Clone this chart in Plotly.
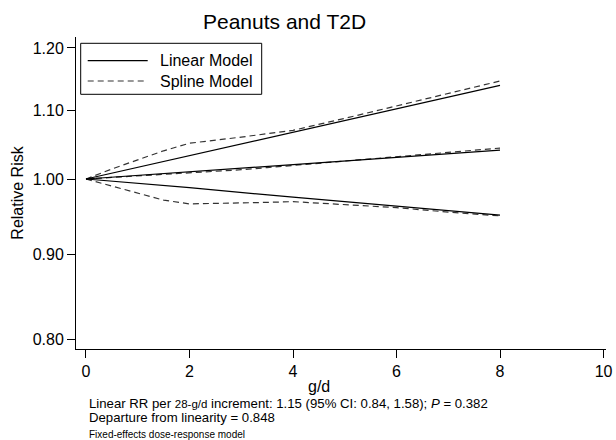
import plotly.graph_objects as go

# ---------------- data ----------------
lin_x = [0, 2, 4, 6, 8]
lin_rr = [1.000, 1.010, 1.020, 1.031, 1.041]
lin_hi = [1.000, 1.033, 1.068, 1.103, 1.139]
lin_lo = [1.000, 0.988, 0.975, 0.963, 0.951]

spl_x = [0, 0.5, 1, 1.5, 2, 2.5, 3, 3.5, 4, 5, 6, 7, 8]
spl_rr = [1.000, 1.002, 1.004, 1.006, 1.008, 1.010, 1.013, 1.016, 1.019, 1.025, 1.031, 1.037, 1.044]
spl_hi = [1.000, 1.014, 1.027, 1.040, 1.051, 1.055, 1.060, 1.065, 1.070, 1.088, 1.107, 1.126, 1.146]
spl_lo = [1.000, 0.990, 0.980, 0.971, 0.966, 0.9665, 0.967, 0.968, 0.969, 0.965, 0.961, 0.955, 0.950]

x_ticks = [0, 2, 4, 6, 8, 10]
y_ticks = [0.80, 0.90, 1.00, 1.10, 1.20]
y_ticktext = ["0.80", "0.90", "1.00", "1.10", "1.20"]

title = "Peanuts and T2D"
x_title = "g/d"
y_title = "Relative Risk"
legend_names = ["Linear Model", "Spline Model"]

# ---------------- layout helpers ----------------
W, H = 616, 440
ML, MR, MT, MB = 76, 10, 37, 91
PW, PH = W - ML - MR, H - MT - MB
FONT = "Arial, Liberation Sans, Helvetica, sans-serif"


def px(x):
    return (x - ML) / PW


def py(y):
    return (H - MB - y) / PH


fig = go.Figure()

dash_style = dict(color="#333333", width=1.2, dash="6px,4px")
solid_style = dict(color="#000000", width=1.2)

for ys in (spl_hi, spl_rr, spl_lo):
    fig.add_trace(go.Scatter(x=spl_x, y=ys, mode="lines", line=dash_style,
                             name=legend_names[1], showlegend=False, hoverinfo="skip"))
for ys in (lin_hi, lin_rr, lin_lo):
    fig.add_trace(go.Scatter(x=lin_x, y=ys, mode="lines", line=solid_style,
                             name=legend_names[0], showlegend=False, hoverinfo="skip"))

axis_common = dict(showline=True, linecolor="black", linewidth=1, ticks="outside",
                   ticklen=8, tickcolor="black", tickwidth=1, showgrid=False,
                   zeroline=False, mirror=False,
                   tickfont=dict(family=FONT, size=16, color="black"))

fig.update_xaxes(range=[-0.193, 10.048], tickvals=x_ticks, **axis_common)
fig.update_yaxes(type="log", range=[-0.10268, 0.08577], tickvals=y_ticks,
                 ticktext=y_ticktext,
                 title=dict(text=y_title, font=dict(family=FONT, size=16, color="black"),
                            standoff=5),
                 **axis_common)

shapes = []
# legend box
shapes.append(dict(type="rect", xref="paper", yref="paper",
                   x0=px(80.7), x1=px(261.7), y0=py(94.3), y1=py(43.3),
                   line=dict(color="black", width=1), fillcolor="white"))
shapes.append(dict(type="line", xref="paper", yref="paper",
                   x0=px(87.7), x1=px(147.7), y0=py(60.7), y1=py(60.7),
                   line=solid_style))
shapes.append(dict(type="line", xref="paper", yref="paper",
                   x0=px(87.7), x1=px(147.7), y0=py(81), y1=py(81),
                   line=dash_style))

annotations = []


def ann(text, x, y, size, xanchor="left", yanchor="middle"):
    annotations.append(dict(text=text, x=px(x), y=py(y), xref="paper", yref="paper",
                            showarrow=False, xanchor=xanchor, yanchor=yanchor,
                            font=dict(family=FONT, size=size, color="black")))


ann(legend_names[0], 157.7, 60.7, 16)
ann(legend_names[1], 157.7, 81, 16)
ann(title, 284, 22, 21, xanchor="center")
ann(x_title, 319, 386, 16, xanchor="center")
ann("Linear RR per <span style='font-size:11.5px'>28-g/d</span> increment: 1.15 (95% CI: 0.84, 1.58); <i>P</i> = 0.382",
    87, 403, 13.2)
ann("Departure from linearity = 0.848", 87, 417.5, 13.2)
ann("Fixed-effects dose-response model", 87, 434.5, 10)

fig.update_layout(width=W, height=H,
                  margin=dict(l=ML, r=MR, t=MT, b=MB, autoexpand=False),
                  paper_bgcolor="white", plot_bgcolor="white",
                  showlegend=False, shapes=shapes, annotations=annotations,
                  font=dict(family=FONT, color="black"))

fig.write_html("out.html", config={"displayModeBar": False},
               post_script="document.body.style.margin='0px';document.body.style.padding='0px';")
